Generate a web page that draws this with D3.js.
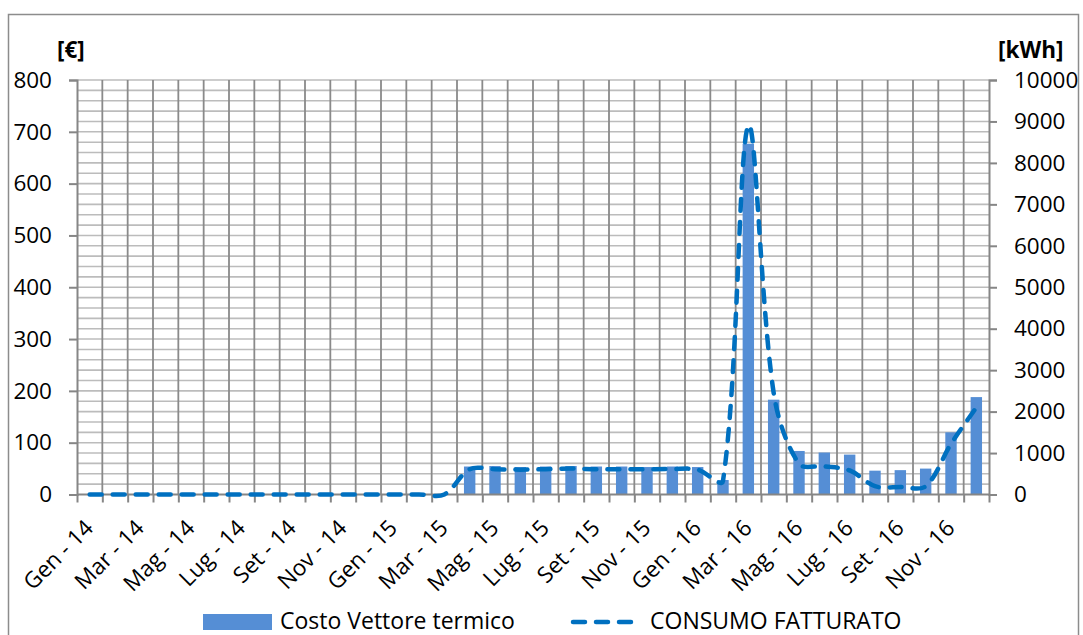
<!DOCTYPE html>
<html>
<head>
<meta charset="utf-8">
<script src="https://cdn.jsdelivr.net/npm/d3@7"></script>
<style>
  html, body { margin: 0; padding: 0; background: #fff; }
  svg text { font-family: "Open Sans", "Noto Sans", sans-serif; fill: #000; }
</style>
</head>
<body>
<svg id="chart" width="1083" height="635"></svg>
<script>
// Monthly categories, Jan 2014 – Dec 2016
const categorie = [
  "Gen - 14","Feb - 14","Mar - 14","Apr - 14","Mag - 14","Giu - 14","Lug - 14","Ago - 14","Set - 14","Ott - 14","Nov - 14","Dic - 14",
  "Gen - 15","Feb - 15","Mar - 15","Apr - 15","Mag - 15","Giu - 15","Lug - 15","Ago - 15","Set - 15","Ott - 15","Nov - 15","Dic - 15",
  "Gen - 16","Feb - 16","Mar - 16","Apr - 16","Mag - 16","Giu - 16","Lug - 16","Ago - 16","Set - 16","Ott - 16","Nov - 16","Dic - 16"
];
// Labels shown on the category axis (every other month)
const etichetteX = [
  "Gen - 14","Mar - 14","Mag - 14","Lug - 14","Set - 14","Nov - 14",
  "Gen - 15","Mar - 15","Mag - 15","Lug - 15","Set - 15","Nov - 15",
  "Gen - 16","Mar - 16","Mag - 16","Lug - 16","Set - 16","Nov - 16"
];
// Costo Vettore termico [€]
const costo = [
  null, null, null, null, null, null, null, null, null, null, null, null,
  null, null, null, 54, 55, 53, 54, 55, 54, 54, 53, 54,
  53, 28, 677, 183, 84, 81, 77, 46, 47, 50, 120, 188
];
// CONSUMO FATTURATO [kWh]
const consumo = [
  0, 0, 0, 0, 0, 0, 0, 0, 0, 0, 0, 0,
  0, 0, 0, 610, 610, 600, 610, 625, 610, 610, 610, 615,
  600, 330, 8900, 2450, 740, 680, 580, 200, 180, 200, 1220, 2100
];
const tickEuro = [0, 100, 200, 300, 400, 500, 600, 700, 800];
const tickKwh = [0, 1000, 2000, 3000, 4000, 5000, 6000, 7000, 8000, 9000, 10000];
const gridEuro = d3.range(0, 801, 20);

const colBarre = "#558ED5";
const colLinea = "#0070C0";
const colAsse = "#868686";
const colGrigliaH = "#bcbcbc";
const colGrigliaV = "#8a8a8a";
const fontSize = 22.5;

const svg = d3.select("#chart");
const plot = { left: 77, right: 989, top: 80, bottom: 494.5 };

// Outer chart frame
svg.append("rect")
  .attr("x", 8.5).attr("y", 14.5)
  .attr("width", 1070).attr("height", 640)
  .attr("fill", "#fff").attr("stroke", "#8c8c8c").attr("stroke-width", 1.5);

// Scales
const x = d3.scaleBand().domain(categorie)
  .range([plot.left, plot.right]).paddingInner(0.55).paddingOuter(0.275);
const step = x.step();
const cx = d => x(d) + x.bandwidth() / 2;
const yE = d3.scaleLinear().domain([0, 800]).range([plot.bottom, plot.top]);
const yK = d3.scaleLinear().domain([0, 10000]).range([plot.bottom, plot.top]);

// Horizontal gridlines every 20 €
svg.append("g").selectAll("line").data(gridEuro.filter(v => v > 0)).join("line")
  .attr("x1", plot.left).attr("x2", plot.right)
  .attr("y1", d => yE(d)).attr("y2", d => yE(d))
  .attr("stroke", colGrigliaH).attr("stroke-width", 1.6);

// Vertical gridlines at category boundaries
const confini = categorie.map(c => cx(c) - step / 2).slice(1);
svg.append("g").selectAll("line").data(confini).join("line")
  .attr("x1", d => d).attr("x2", d => d)
  .attr("y1", plot.top).attr("y2", plot.bottom)
  .attr("stroke", colGrigliaV).attr("stroke-width", 1.8);

// Bars
svg.append("g").selectAll("rect")
  .data(categorie.map((c, i) => ({ c, v: costo[i] })).filter(d => d.v != null))
  .join("rect")
  .attr("x", d => x(d.c)).attr("width", x.bandwidth())
  .attr("y", d => yE(d.v)).attr("height", d => yE(0) - yE(d.v))
  .attr("fill", colBarre);

// Left axis
const asseSx = svg.append("g").attr("transform", `translate(${plot.left},0)`)
  .call(d3.axisLeft(yE).tickValues(tickEuro).tickSize(8).tickPadding(17).tickFormat(d3.format("d")));
// Right axis
const asseDx = svg.append("g").attr("transform", `translate(${plot.right},0)`)
  .call(d3.axisRight(yK).tickValues(tickKwh).tickSize(8).tickPadding(17).tickFormat(d3.format("d")));
// Bottom axis: a tick at each category boundary
const xLin = d3.scaleLinear().domain([0, categorie.length]).range([plot.left, plot.right]);
const asseX = svg.append("g").attr("transform", `translate(0,${plot.bottom})`)
  .call(d3.axisBottom(xLin).tickValues(d3.range(0, categorie.length + 1)).tickSize(8).tickFormat(""));

[asseSx, asseDx, asseX].forEach(g => {
  g.select(".domain").attr("stroke", colAsse).attr("stroke-width", 2);
  g.selectAll(".tick line").attr("stroke", colAsse).attr("stroke-width", 2);
  g.selectAll("text").attr("font-size", fontSize)
    .attr("font-family", "'Open Sans', 'Noto Sans', sans-serif").attr("fill", "#000");
});
asseX.select(".domain").attr("d", `M${plot.left},0H${plot.right}`);

// Rotated category labels
svg.append("g").selectAll("text").data(etichetteX).join("text")
  .attr("transform", d => `translate(${cx(d) + 5},${plot.bottom + 35}) rotate(-45)`)
  .attr("text-anchor", "end")
  .attr("font-size", fontSize)
  .text(d => d);

// Smoothed line (Bezier with tangents weighted by segment length)
function curvaLiscia(context) {
  let pts;
  return {
    areaStart() {}, areaEnd() {},
    lineStart() { pts = []; },
    point(px, py) { pts.push([+px, +py]); },
    lineEnd() {
      const n = pts.length;
      if (!n) return;
      context.moveTo(pts[0][0], pts[0][1]);
      if (n === 1) return;
      const dist = (a, b) => Math.hypot(b[0] - a[0], b[1] - a[1]);
      const k = 1 / 3, cin = [], cout = [];
      for (let i = 0; i < n; i++) {
        const p = pts[i], a = pts[Math.max(i - 1, 0)], b = pts[Math.min(i + 1, n - 1)];
        const d0 = dist(a, p), d1 = dist(p, b), s = (d0 + d1) || 1;
        const tx = b[0] - a[0], ty = b[1] - a[1];
        cin[i] = [p[0] - tx * k * d0 / s, p[1] - ty * k * d0 / s];
        cout[i] = [p[0] + tx * k * d1 / s, p[1] + ty * k * d1 / s];
      }
      for (let i = 0; i < n - 1; i++) {
        context.bezierCurveTo(cout[i][0], cout[i][1], cin[i + 1][0], cin[i + 1][1], pts[i + 1][0], pts[i + 1][1]);
      }
    }
  };
}
const linea = d3.line()
  .x((d, i) => cx(categorie[i]))
  .y(d => yK(d))
  .curve(curvaLiscia);
svg.append("path").datum(consumo)
  .attr("d", linea)
  .attr("fill", "none").attr("stroke", colLinea).attr("stroke-width", 4.5)
  .attr("stroke-linecap", "round").attr("stroke-dasharray", "12 11");

// Axis unit titles
svg.append("text").attr("x", 57).attr("y", 58).attr("font-size", fontSize).attr("font-weight", "bold").text("[€]");
svg.append("text").attr("x", 998).attr("y", 58).attr("font-size", fontSize).attr("font-weight", "bold").text("[kWh]");

// Legend
const leg = svg.append("g");
leg.append("rect").attr("x", 203).attr("y", 614).attr("width", 69).attr("height", 16).attr("fill", colBarre);
leg.append("text").attr("x", 280).attr("y", 629).attr("font-size", 23).text("Costo Vettore termico");
leg.append("path").attr("d", d3.line()([[573, 622], [631, 622]]))
  .attr("stroke", colLinea).attr("stroke-width", 4.5).attr("stroke-linecap", "round")
  .attr("stroke-dasharray", "12 11").attr("fill", "none");
leg.append("text").attr("x", 650).attr("y", 629).attr("font-size", 23).text("CONSUMO FATTURATO");
</script>
</body>
</html>
